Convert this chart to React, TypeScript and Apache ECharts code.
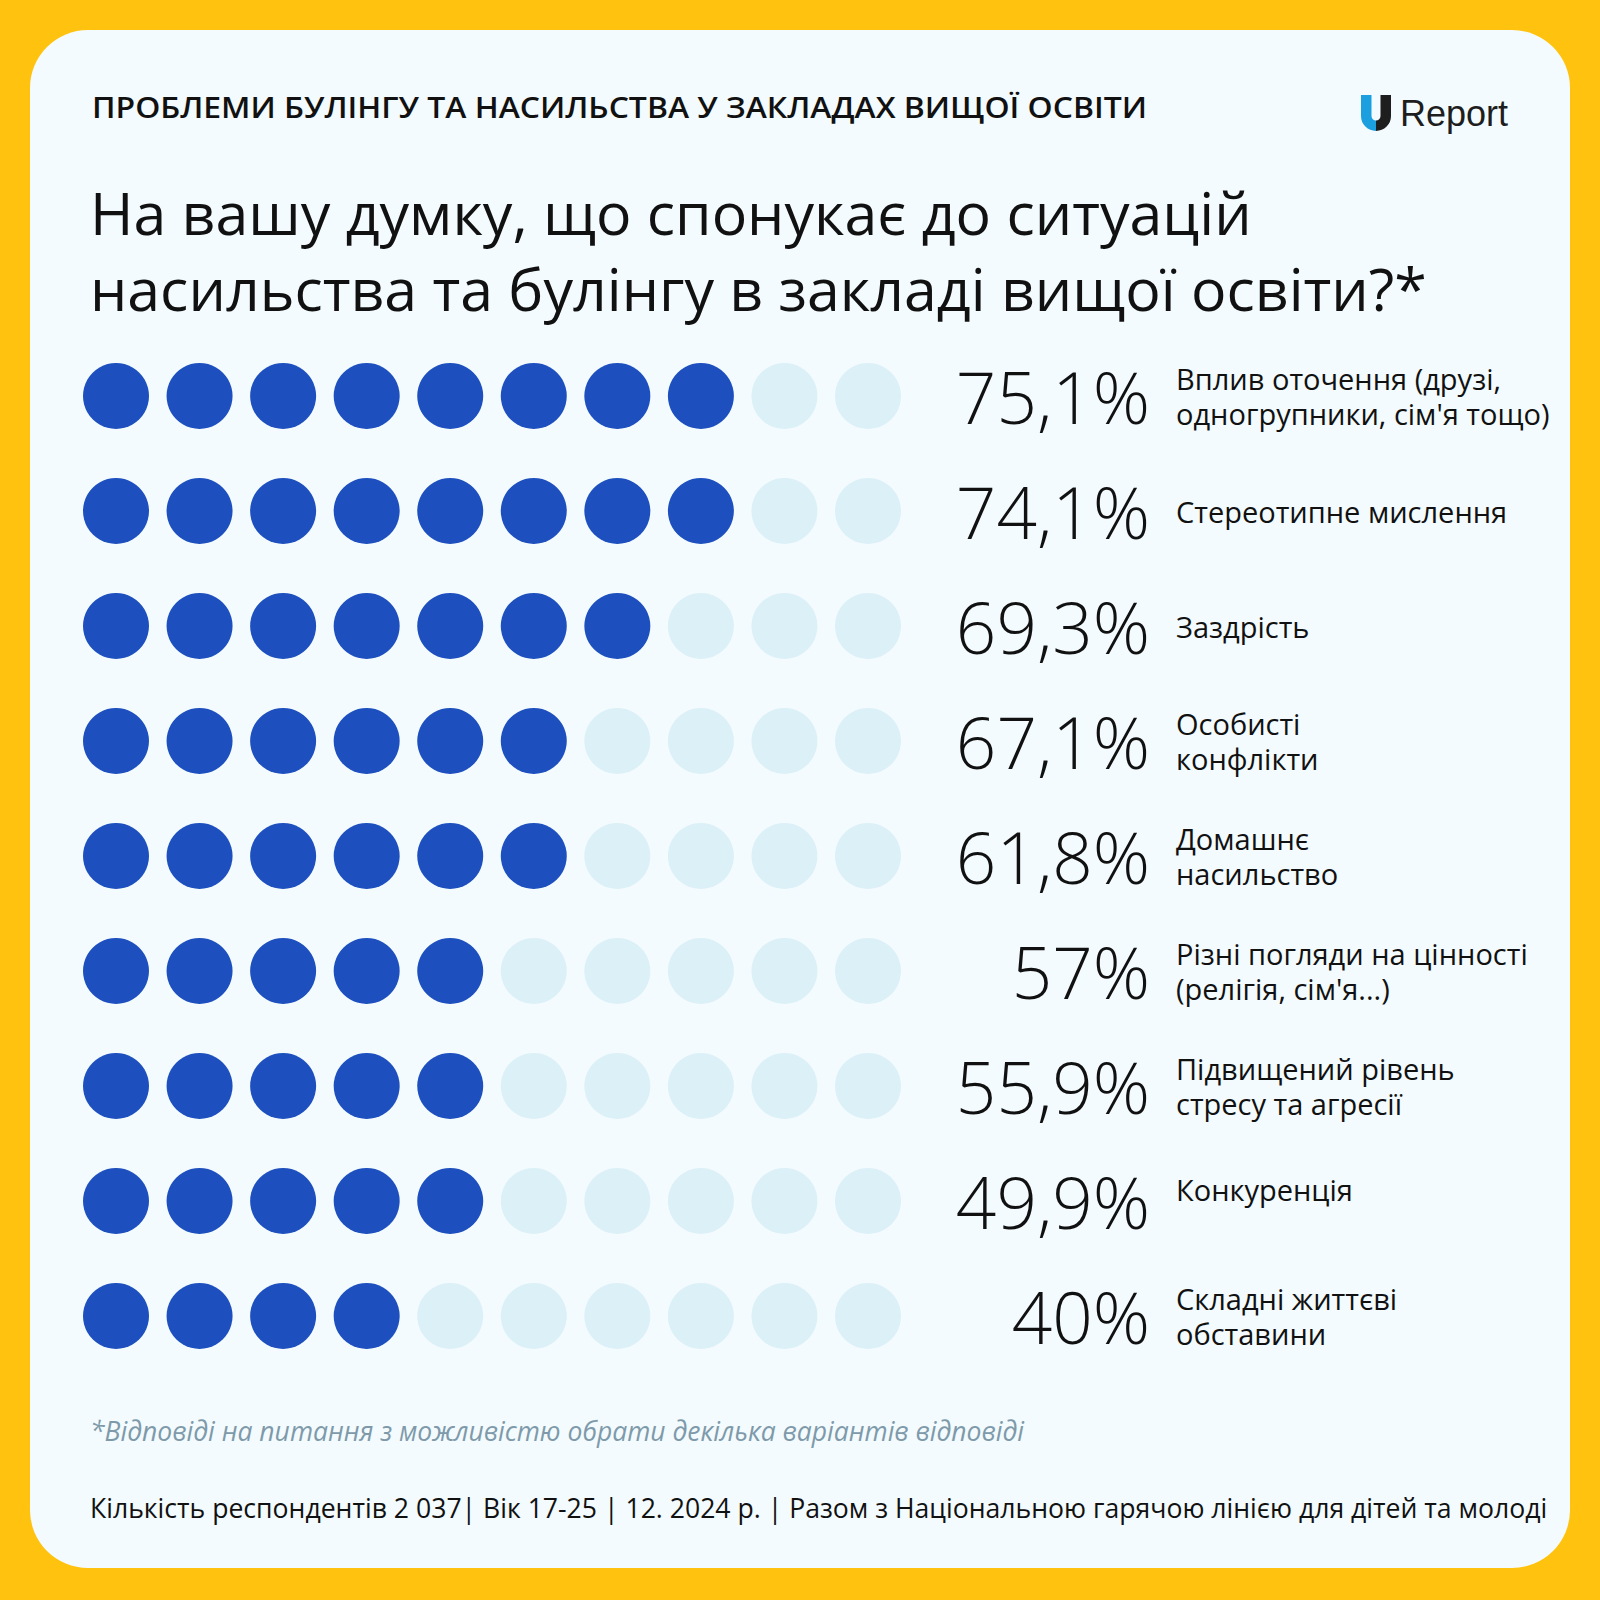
import React, { useEffect, useRef } from "react";
import * as echarts from "echarts";

const categories = [
  "Вплив оточення (друзі,\nодногрупники, сім'я тощо)",
  "Стереотипне мислення",
  "Заздрість",
  "Особисті\nконфлікти",
  "Домашнє\nнасильство",
  "Різні погляди на цінності\n(релігія, сім'я...)",
  "Підвищений рівень\nстресу та агресії",
  "Конкуренція",
  "Складні життєві\nобставини",
];
const percentLabels = ["75,1%", "74,1%", "69,3%", "67,1%", "61,8%", "57%", "55,9%", "49,9%", "40%"];
const filledDots = [8, 8, 7, 6, 6, 5, 5, 5, 4];
const raisedLabels = ["Конкуренція"];
const dotsPerRow = 10;

const TITLE = "ПРОБЛЕМИ БУЛІНГУ ТА НАСИЛЬСТВА У ЗАКЛАДАХ ВИЩОЇ ОСВІТИ";
const QUESTION = "На вашу думку, що спонукає до ситуацій\nнасильства та булінгу в закладі вищої освіти?*";
const FOOTNOTE = "*Відповіді на питання з можливістю обрати декілька варіантів відповіді";
const SOURCE = "Кількість респондентів 2 037| Вік 17-25 | 12. 2024 р. | Разом з Національною гарячою лінією для дітей та молоді";

const FONT = "'Open Sans', 'Noto Sans', sans-serif";

echarts.graphic.registerShape(
  "uLeft",
  echarts.graphic.extendPath("M0,0 L10.5,0 L10.5,21 A4.5,4.5 0 0 0 15,25.5 L15,36 A15,15 0 0 1 0,21 Z", {})
);
echarts.graphic.registerShape(
  "uRight",
  echarts.graphic.extendPath("M30,0 L19.5,0 L19.5,21 A4.5,4.5 0 0 1 15,25.5 L15,36 A15,15 0 0 0 30,21 Z", {})
);

export default function App() {
  const ref = useRef<HTMLDivElement>(null);
  useEffect(() => {
    if (!ref.current) return;
    const chart = echarts.init(ref.current, null, { renderer: "svg" });
    const filled: number[][] = [];
    const empty: number[][] = [];
    filledDots.forEach((n, i) => {
      for (let j = 0; j < dotsPerRow; j++) {
        (j < n ? filled : empty).push([j, i]);
      }
    });
    chart.setOption({
      animation: false,
      backgroundColor: "#FFC20E",
      graphic: [
        {
          type: "rect",
          shape: { x: 30, y: 30, width: 1540, height: 1538, r: 58 },
          style: { fill: "#F3FBFE" },
          z: -10,
          silent: true,
        },
        {
          type: "text",
          x: 92,
          y: 107,
          scaleX: 1.14,
          style: {
            text: TITLE,
            font: `600 28px ${FONT}`,
            fill: "#111111",
            verticalAlign: "middle",
            align: "left",
          },
        },
        {
          type: "text",
          x: 90,
          y: 174,
          style: {
            text: QUESTION,
            font: `400 59px ${FONT}`,
            lineHeight: 76,
            fill: "#111111",
            verticalAlign: "top",
            align: "left",
          },
        },
        { type: "uLeft", x: 1361, y: 95, style: { fill: "#1C9FDF" } },
        { type: "uRight", x: 1361, y: 95, style: { fill: "#1E1E1E" } },
        {
          type: "text",
          x: 1400,
          y: 113,
          style: {
            text: "Report",
            font: `400 36px 'Liberation Sans', Arial, sans-serif`,
            fill: "#1E1E1E",
            verticalAlign: "middle",
            align: "left",
          },
        },
        {
          type: "text",
          x: 90,
          y: 1431,
          style: {
            text: FOOTNOTE,
            font: `italic 400 26.5px ${FONT}`,
            fill: "#7E9AAA",
            verticalAlign: "middle",
            align: "left",
          },
        },
        {
          type: "text",
          x: 90,
          y: 1508,
          style: {
            text: SOURCE,
            font: `400 26.6px ${FONT}`,
            fill: "#111111",
            verticalAlign: "middle",
            align: "left",
          },
        },
      ],
      grid: { left: 116, right: 732, top: 338.5, bottom: 226.5, containLabel: false },
      xAxis: {
        type: "value",
        min: 0,
        max: dotsPerRow - 1,
        show: false,
      },
      yAxis: [
        {
          type: "category",
          data: percentLabels,
          inverse: true,
          position: "right",
          axisLine: { show: false },
          axisTick: { show: false },
          splitLine: { show: false },
          axisLabel: {
            align: "right",
            margin: 282,
            fontSize: 71,
            fontWeight: 300,
            fontFamily: FONT,
            color: "#111111",
            verticalAlign: "middle",
          },
        },
        {
          type: "category",
          data: categories,
          inverse: true,
          position: "right",
          axisLine: { show: false },
          axisTick: { show: false },
          splitLine: { show: false },
          axisLabel: {
            align: "left",
            margin: 308,
            fontSize: 29,
            lineHeight: 35,
            fontFamily: FONT,
            color: "#111111",
            verticalAlign: "middle",
            formatter: (v: string) => (raisedLabels.includes(v) ? `{up|${v}}` : v),
            rich: {
              up: {
                fontSize: 29,
                lineHeight: 35,
                fontFamily: FONT,
                color: "#111111",
                padding: [0, 0, 24, 0],
              },
            },
          },
        },
      ],
      series: [
        {
          type: "scatter",
          name: "empty",
          yAxisIndex: 0,
          data: empty,
          symbol: "circle",
          symbolSize: 66,
          itemStyle: { color: "#DCF0F7", opacity: 1 },
          silent: true,
        },
        {
          type: "scatter",
          name: "filled",
          yAxisIndex: 0,
          data: filled,
          symbol: "circle",
          symbolSize: 66,
          itemStyle: { color: "#1D50BE", opacity: 1 },
          silent: true,
        },
      ],
    });
    return () => chart.dispose();
  }, []);
  return (
    <div
      ref={ref}
      style={{ position: "absolute", left: 0, top: 0, width: 1600, height: 1600 }}
    />
  );
}
